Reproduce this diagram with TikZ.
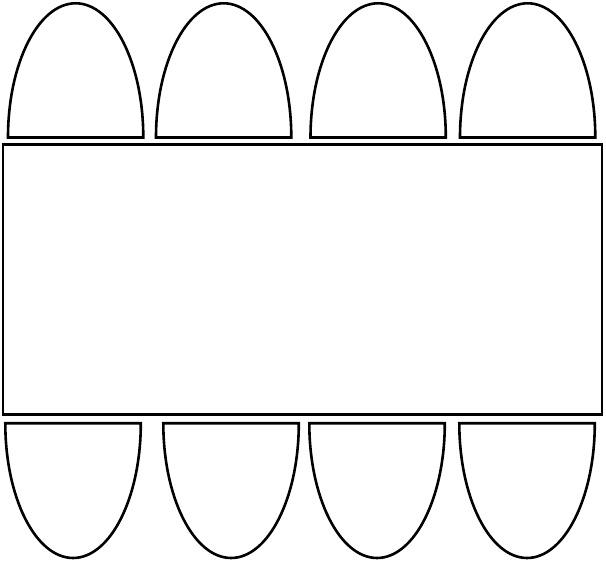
\documentclass[tikz,border=0pt]{standalone}
\usepackage{tikz}
\usetikzlibrary{positioning}

\tikzset{
  outline/.style={draw=black,line width=2.6pt,line join=miter},
}

\begin{document}
\begin{tikzpicture}[x=1pt,y=1pt]
  \useasboundingbox (0,0) rectangle (606,561);

  % table
  \draw[outline] (3,146.5) rectangle (602,416.5);

  % chairs on the top side
  \foreach \x in {8,156,310.5,460} {
  \draw[outline] (\x,423.5) -- ++(135.3,0)
    arc[start angle=0,end angle=180,x radius=67.65,y radius=134.2] -- cycle;
  }

  % chairs on the bottom side
  \foreach \x in {5.3,163.3,309.3,459.3} {
  \draw[outline] (\x,137.7) -- ++(135.5,0)
    arc[start angle=0,end angle=-180,x radius=67.75,y radius=134.7] -- cycle;
  }
\end{tikzpicture}
\end{document}
